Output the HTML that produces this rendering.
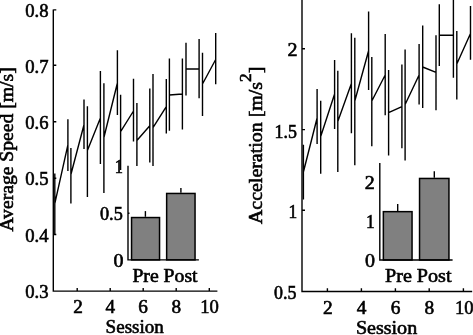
<!DOCTYPE html><html><head><meta charset="utf-8"><style>html,body{margin:0;padding:0;background:#fff}svg{display:block;will-change:transform;opacity:0.999}text{font-family:"Liberation Serif",serif;fill:#000;stroke:#000;stroke-width:0.6px}</style></head><body>
<svg width="473" height="335" viewBox="0 0 473 335" font-size="18.4">
<rect width="473" height="335" fill="#fff"/>
<path d="M54.8 173.5V234.0M67.9 119.3V170.9M70.9 148.0V203.4M84.0 99.6V149.1M87.4 106.2V196.9M100.4 71.1V164.0M103.9 83.2V193.0M117.4 50.2V115.0M120.6 94.7V170.0M133.5 78.8V141.5M136.9 102.9V178.0M149.8 88.5V162.6M153.0 74.0V181.4M166.3 79.1V133.6M169.4 58.5V130.7M182.4 58.6V129.4M186.0 42.8V95.5M199.1 39.0V98.2M202.5 52.8V116.0M215.7 33.1V84.3M54.8 203.7L67.9 144.8M70.9 174.5L84.0 124.7M87.4 150.5L100.4 118.0M103.9 137.5L117.4 83.0M120.6 131.6L133.5 111.0M136.9 140.5L149.8 125.7M153.0 127.7L166.3 106.7M169.4 95.0L182.4 94.0M186.0 69.0L199.1 68.7M202.5 84.0L215.7 59.5" fill="none" stroke="#000" stroke-width="1.4"/>
<path d="M303.4 144.8V199.4M317.1 89.1V143.9M320.7 100.7V173.8M334.6 59.9V128.9M337.8 70.8V172.1M351.4 33.2V133.2M354.8 37.8V165.3M368.6 11.6V90.0M371.8 57.1V146.3M385.2 34.0V115.3M388.6 70.1V155.5M401.9 64.5V148.2M405.1 49.4V160.4M419.1 44.0V104.6M422.7 25.5V108.0M436.0 35.2V110.3M439.3 4.2V66.0M453.4 -7.0V77.8M456.8 31.1V99.4M470.5 6.1V59.7M303.4 172.0L317.1 118.0M320.7 136.5L334.6 94.0M337.8 121.4L351.4 83.5M354.8 101.0L368.6 50.8M371.8 101.0L385.2 75.0M388.6 112.7L401.9 106.6M405.1 104.5L419.1 75.0M422.7 67.0L436.0 72.4M439.3 35.3L453.4 35.3M456.8 64.0L470.5 33.5" fill="none" stroke="#000" stroke-width="1.4"/>
<path d="M53.3 9.4V291.1H217.4M53.3 9.9h3M53.3 65.2h3M53.3 121.7h3M53.3 178.2h3M53.3 234.5h3M77.2 291.1v-3.2M110.2 291.1v-3.2M143.2 291.1v-3.2M176.2 291.1v-3.2M209.3 291.1v-3.2M302.0 -1V291.5H472.2M302.0 48.8h3M302.0 129.6h3M302.0 210.3h3M327.4 291.5v-3.3M361.4 291.5v-3.3M395.4 291.5v-3.3M429.2 291.5v-3.3M463.4 291.5v-3.3" fill="none" stroke="#000" stroke-width="1.4"/>
<rect x="128.1" y="166" width="75" height="94" fill="#fff"/>
<rect x="379.8" y="163" width="76" height="97" fill="#fff"/>
<path d="M145.4 211.1V216.8" stroke="#000" stroke-width="1.4"/><rect x="131.55" y="217.55" width="28.00" height="42.35" fill="#808080" stroke="#000" stroke-width="1.5"/>
<path d="M180.9 188V192.7" stroke="#000" stroke-width="1.4"/><rect x="166.65" y="193.45" width="28.40" height="66.45" fill="#808080" stroke="#000" stroke-width="1.5"/>
<path d="M397.7 203.9V210.9" stroke="#000" stroke-width="1.4"/><rect x="383.35" y="211.65" width="28.70" height="48.35" fill="#808080" stroke="#000" stroke-width="1.5"/>
<path d="M434.3 171.2V177.7" stroke="#000" stroke-width="1.4"/><rect x="419.55" y="178.45" width="29.40" height="81.55" fill="#808080" stroke="#000" stroke-width="1.5"/>
<path d="M128.0 165.7V259.9H198.9M128.0 213.2h1.5M379.8 163V260H452.6" fill="none" stroke="#000" stroke-width="1.4"/>
<text x="25.3" y="16.6" text-anchor="start" textLength="23.3" lengthAdjust="spacingAndGlyphs">0.8</text>
<text x="25.3" y="72.8" text-anchor="start" textLength="23.3" lengthAdjust="spacingAndGlyphs">0.7</text>
<text x="25.3" y="128.6" text-anchor="start" textLength="23.3" lengthAdjust="spacingAndGlyphs">0.6</text>
<text x="25.3" y="185.39999999999998" text-anchor="start" textLength="23.3" lengthAdjust="spacingAndGlyphs">0.5</text>
<text x="25.3" y="241.6" text-anchor="start" textLength="23.3" lengthAdjust="spacingAndGlyphs">0.4</text>
<text x="25.3" y="297.6" text-anchor="start" textLength="23.3" lengthAdjust="spacingAndGlyphs">0.3</text>
<text x="78.0" y="312.7" text-anchor="middle" textLength="9.6" lengthAdjust="spacingAndGlyphs">2</text>
<text x="110.4" y="312.7" text-anchor="middle" textLength="9.6" lengthAdjust="spacingAndGlyphs">4</text>
<text x="143.1" y="312.7" text-anchor="middle" textLength="9.6" lengthAdjust="spacingAndGlyphs">6</text>
<text x="176.2" y="312.7" text-anchor="middle" textLength="9.6" lengthAdjust="spacingAndGlyphs">8</text>
<text x="200.3" y="312.7" text-anchor="start" textLength="18.6" lengthAdjust="spacingAndGlyphs">10</text>
<text x="105.6" y="332.6" text-anchor="start" textLength="58.2" lengthAdjust="spacingAndGlyphs">Session</text>
<text x="287.5" y="56.1" text-anchor="start" textLength="10" lengthAdjust="spacingAndGlyphs">2</text>
<text x="274.6" y="137.5" text-anchor="start" textLength="22.4" lengthAdjust="spacingAndGlyphs">1.5</text>
<text x="288.6" y="217.8" text-anchor="start" textLength="8.7" lengthAdjust="spacingAndGlyphs">1</text>
<text x="274.0" y="299" text-anchor="start" textLength="22.4" lengthAdjust="spacingAndGlyphs">0.5</text>
<text x="327.9" y="313.5" text-anchor="middle" textLength="9.7" lengthAdjust="spacingAndGlyphs">2</text>
<text x="361.5" y="313.5" text-anchor="middle" textLength="9.7" lengthAdjust="spacingAndGlyphs">4</text>
<text x="395.5" y="313.5" text-anchor="middle" textLength="9.7" lengthAdjust="spacingAndGlyphs">6</text>
<text x="429.3" y="313.5" text-anchor="middle" textLength="9.7" lengthAdjust="spacingAndGlyphs">8</text>
<text x="455.0" y="313.5" text-anchor="start" textLength="18.6" lengthAdjust="spacingAndGlyphs">10</text>
<text x="355.9" y="334.3" text-anchor="start" textLength="61.3" lengthAdjust="spacingAndGlyphs">Session</text>
<text x="114.7" y="172.6" text-anchor="start" textLength="8.2" lengthAdjust="spacingAndGlyphs">1</text>
<text x="100" y="220.1" text-anchor="start" textLength="22.8" lengthAdjust="spacingAndGlyphs">0.5</text>
<text x="113.5" y="266.6" text-anchor="start" textLength="10" lengthAdjust="spacingAndGlyphs">0</text>
<text x="132.4" y="282.3" text-anchor="start" textLength="65.2" lengthAdjust="spacingAndGlyphs">Pre Post</text>
<text x="364.8" y="189.4" text-anchor="start" textLength="10" lengthAdjust="spacingAndGlyphs">2</text>
<text x="366.1" y="227.5" text-anchor="start" textLength="8.7" lengthAdjust="spacingAndGlyphs">1</text>
<text x="365.1" y="267.0" text-anchor="start" textLength="10" lengthAdjust="spacingAndGlyphs">0</text>
<text x="385.0" y="282.2" text-anchor="start" textLength="66.5" lengthAdjust="spacingAndGlyphs">Pre Post</text>
<text transform="translate(13.1 231.6) rotate(-90)" textLength="164.3" lengthAdjust="spacingAndGlyphs">Average Speed [m/s]</text>
<text transform="translate(261.6 224.0) rotate(-90)" textLength="157.3" lengthAdjust="spacingAndGlyphs">Acceleration [m/s<tspan dy="-11" font-size="16">2</tspan><tspan dy="11">]</tspan></text>
</svg></body></html>
